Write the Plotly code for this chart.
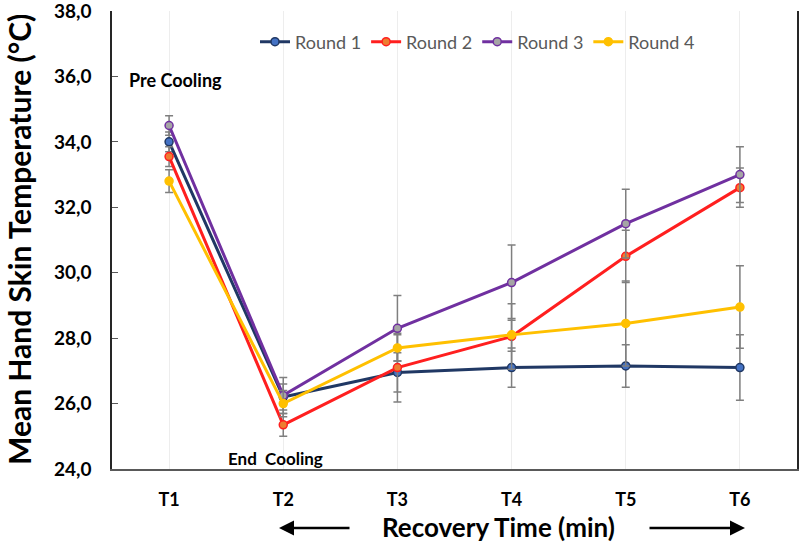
import plotly.graph_objects as go

times = ["T1", "T2", "T3", "T4", "T5", "T6"]

round1 = [34.0, 26.2, 26.95, 27.1, 27.15, 27.1]
round2 = [33.55, 25.35, 27.1, 28.05, 30.5, 32.6]
round3 = [34.5, 26.25, 28.3, 29.7, 31.5, 33.0]
round4 = [32.8, 26.0, 27.7, 28.1, 28.45, 28.95]

err1 = [0.3, 0.4, 0.6, 0.6, 0.65, 1.0]
err2 = [0.3, 0.35, 1.05, 1.0, 0.8, 0.6]
err3 = [0.3, 0.55, 1.0, 1.15, 1.05, 0.85]
err4 = [0.35, 0.4, 0.4, 0.5, 1.3, 1.26]

y_ticks = [24, 26, 28, 30, 32, 34, 36, 38]

series = [
    ("Round 1", round1, err1, "#203864", "#4472C4"),
    ("Round 2", round2, err2, "#FF1F1F", "#ED7D31"),
    ("Round 3", round3, err3, "#7030A0", "#A5A5A5"),
    ("Round 4", round4, err4, "#FFC000", "#FFC000"),
]

FONT = "Lato"
L, R, T, B = 112, 797, 11, 469
PW, PH = R - L, B - T

def px(x):
    return (x - L) / PW

def py(y):
    return (B - y) / PH

fig = go.Figure()
for name, vals, errs, line_col, fill_col in series:
    fig.add_trace(go.Scatter(
        x=times, y=vals, name=name, mode="lines+markers",
        line=dict(color=line_col, width=3),
        marker=dict(size=8, color=fill_col, line=dict(color=line_col, width=1.5)),
        error_y=dict(type="data", array=errs, visible=True,
                     color="#7F7F7F", thickness=1.5, width=4),
    ))

fig.update_layout(
    width=800, height=545,
    margin=dict(l=L, r=800 - R, t=T, b=545 - B),
    plot_bgcolor="white", paper_bgcolor="white",
    font=dict(family=FONT, color="black"),
    showlegend=True,
    legend=dict(orientation="h", x=px(255), y=py(42), xanchor="left", yanchor="middle",
                font=dict(size=18, color="#595959", family=FONT),
                bgcolor="rgba(0,0,0,0)", itemwidth=30),
    xaxis=dict(
        type="category", range=[-0.5, 5.5], automargin=False,
        showgrid=True, gridcolor="#EDEDED", gridwidth=1,
        showline=True, linecolor="#595959", linewidth=2,
        ticks="", tickfont=dict(size=18, family=FONT, weight="bold"),
        ticklabelstandoff=13,
    ),
    yaxis=dict(
        range=[24, 38], tickvals=y_ticks, tickformat=".1f", automargin=False,
        showgrid=False, zeroline=False, ticklabeloverflow="allow",
        showline=True, linecolor="#262626", linewidth=1.5, mirror=True,
        ticks="inside", ticklen=6, tickcolor="#595959",
        tickfont=dict(size=19, family=FONT, weight="bold"),
        ticklabelstandoff=15,
    ),
    separators=",.",
)

fig.add_annotation(text="Mean Hand Skin Temperature (°C)", xref="paper", yref="paper",
                   x=px(19), y=py(240), textangle=-90, showarrow=False,
                   xanchor="center", yanchor="middle",
                   font=dict(size=30, family=FONT, weight="bold"))
fig.add_annotation(text="Recovery Time (min)", xref="paper", yref="paper",
                   x=px(498), y=py(527), showarrow=False,
                   xanchor="center", yanchor="middle",
                   font=dict(size=26, family=FONT, weight="bold"))

fig.add_annotation(text="Pre Cooling", xref="paper", yref="paper",
                   x=px(175), y=py(80), showarrow=False,
                   xanchor="center", yanchor="middle",
                   font=dict(size=18, family=FONT, weight="bold"))
fig.add_annotation(text="End  Cooling", xref="paper", yref="paper",
                   x=px(275), y=py(458), showarrow=False,
                   xanchor="center", yanchor="middle",
                   font=dict(size=17, family=FONT, weight="bold"))

# arrows beside the x-axis title
fig.add_annotation(xref="paper", yref="paper", x=px(279), y=py(528),
                   ax=72, ay=0, showarrow=True, arrowhead=2, arrowsize=1.2,
                   arrowwidth=2.5, arrowcolor="black", text="")
fig.add_annotation(xref="paper", yref="paper", x=px(745), y=py(528),
                   ax=-97, ay=0, showarrow=True, arrowhead=2, arrowsize=1.2,
                   arrowwidth=2.5, arrowcolor="black", text="")

fig.write_html("out.html", config={"displayModeBar": False},
               post_script="document.body.style.margin='0';")
